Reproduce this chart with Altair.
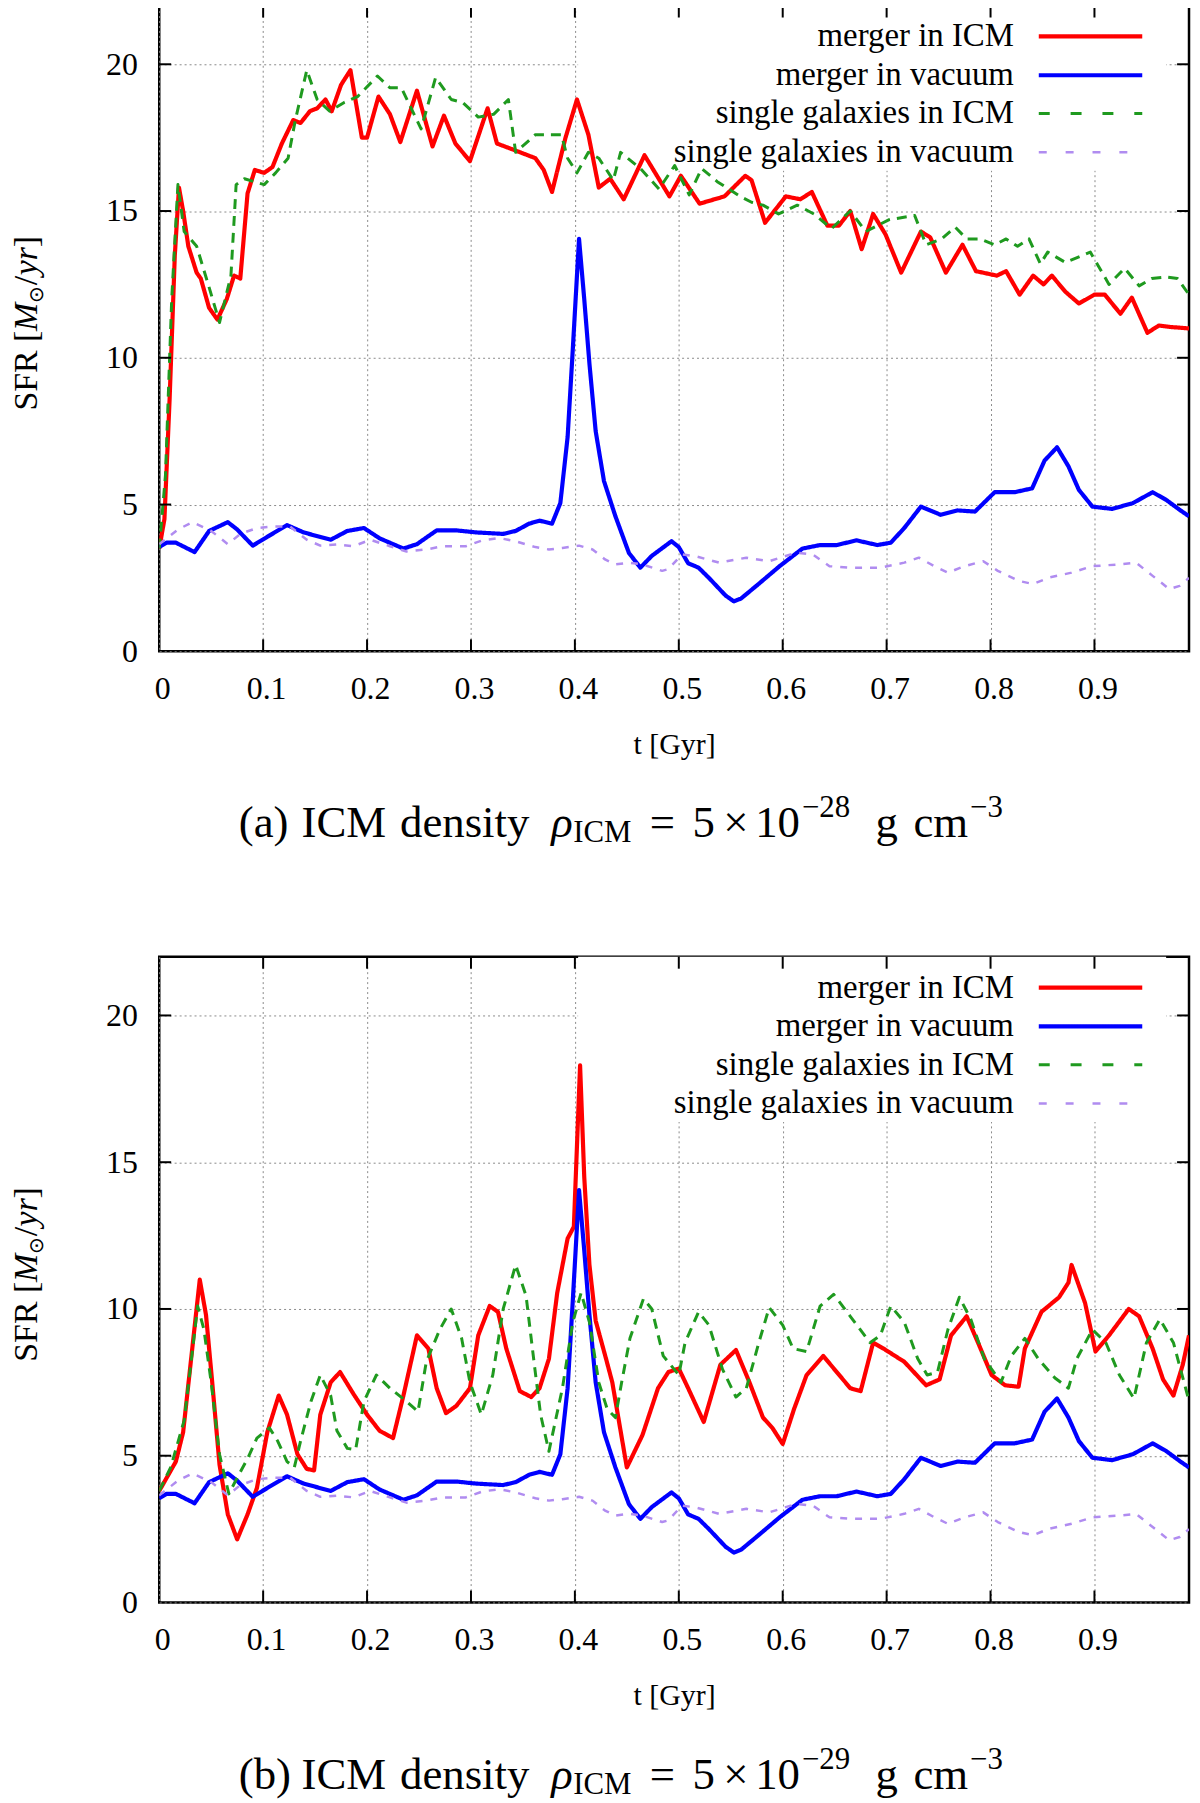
import altair as alt
import pandas as pd

FONT = "Liberation Serif"
W, H = 1035, 649

series_names = ["merger in ICM", "merger in vacuum", "single galaxies in ICM", "single galaxies in vacuum"]
series_colors = ["#ff0000", "#0000ff", "#1f9a1f", "#b08cf0"]

x_tick_values = [0.1, 0.2, 0.3, 0.4, 0.5, 0.6, 0.7, 0.8, 0.9]
x_label_values = [0.0, 0.1, 0.2, 0.3, 0.4, 0.5, 0.6, 0.7, 0.8, 0.9]
y_tick_values = [5, 10, 15, 20]
y_label_values = [0, 5, 10, 15, 20]

# ---- shared vacuum runs (identical in both panels) ----
t_vac_merger = [0.0, 0.007, 0.016, 0.034, 0.048, 0.066, 0.075, 0.09, 0.104, 0.123, 0.139, 0.165, 0.181, 0.197,
                0.212, 0.235, 0.248, 0.267, 0.286, 0.305, 0.331, 0.343, 0.356, 0.366, 0.378, 0.386, 0.393, 0.398,
                0.404, 0.409, 0.414, 0.42, 0.428, 0.439, 0.452, 0.463, 0.474, 0.493, 0.5, 0.509, 0.519, 0.529,
                0.545, 0.553, 0.56, 0.577, 0.597, 0.619, 0.636, 0.652, 0.671, 0.691, 0.704, 0.717, 0.733, 0.752,
                0.768, 0.785, 0.804, 0.823, 0.84, 0.852, 0.864, 0.875, 0.885, 0.898, 0.917, 0.937, 0.956, 0.969,
                0.982, 0.991]
v_vac_merger = [3.55, 3.7, 3.7, 3.38, 4.1, 4.4, 4.15, 3.6, 3.9, 4.3, 4.05, 3.8, 4.1, 4.2,
                3.85, 3.5, 3.65, 4.12, 4.12, 4.05, 4.0, 4.1, 4.35, 4.45, 4.35, 5.05, 7.3, 10.3,
                14.05, 12.0, 9.8, 7.5, 5.8, 4.6, 3.35, 2.85, 3.25, 3.75, 3.55, 3.0, 2.85, 2.5,
                1.9, 1.7, 1.8, 2.3, 2.9, 3.5, 3.62, 3.62, 3.78, 3.62, 3.7, 4.2, 4.93, 4.65,
                4.8, 4.76, 5.42, 5.42, 5.55, 6.5, 6.95, 6.3, 5.5, 4.93, 4.85, 5.05, 5.42, 5.16,
                4.82, 4.6]

t_vac_single = [0.0, 0.018, 0.032, 0.05, 0.066, 0.078, 0.094, 0.11, 0.126, 0.142, 0.155, 0.171, 0.187, 0.203,
                0.222, 0.238, 0.257, 0.273, 0.295, 0.311, 0.327, 0.343, 0.362, 0.375, 0.388, 0.404, 0.417, 0.429,
                0.439, 0.452, 0.465, 0.484, 0.49, 0.503, 0.516, 0.539, 0.565, 0.587, 0.613, 0.629, 0.645, 0.665,
                0.694, 0.717, 0.731, 0.746, 0.759, 0.775, 0.793, 0.807, 0.827, 0.841, 0.856, 0.878, 0.898, 0.924,
                0.94, 0.956, 0.972, 0.982, 0.991]
v_vac_single = [3.65, 4.15, 4.4, 4.1, 3.65, 4.0, 4.2, 4.25, 4.25, 3.8, 3.6, 3.64, 3.58, 3.8,
                3.58, 3.4, 3.47, 3.58, 3.58, 3.78, 3.86, 3.75, 3.55, 3.47, 3.52, 3.6, 3.47, 3.13,
                2.96, 3.02, 2.96, 2.74, 2.8, 3.3, 3.24, 3.02, 3.19, 3.07, 3.36, 3.3, 2.9, 2.85,
                2.85, 3.02, 3.19, 2.9, 2.68, 2.9, 3.07, 2.74, 2.4, 2.29, 2.51, 2.68, 2.9, 2.96,
                3.02, 2.57, 2.12, 2.23, 2.5]

# ---- panel (a): rho_ICM = 5e-28 ----
t_icm_merger_a = [0.0, 0.005, 0.01, 0.015, 0.019, 0.023, 0.028, 0.036, 0.04, 0.048, 0.056, 0.065, 0.072, 0.078,
                  0.085, 0.092, 0.101, 0.109, 0.118, 0.129, 0.136, 0.145, 0.152, 0.16, 0.166, 0.175, 0.184, 0.195,
                  0.2, 0.211, 0.222, 0.232, 0.248, 0.263, 0.274, 0.285, 0.299, 0.316, 0.325, 0.34, 0.362, 0.37,
                  0.378, 0.391, 0.402, 0.413, 0.423, 0.434, 0.447, 0.467, 0.491, 0.502, 0.52, 0.544, 0.564, 0.57,
                  0.583, 0.603, 0.617, 0.628, 0.643, 0.654, 0.665, 0.676, 0.687, 0.699, 0.714, 0.733, 0.742, 0.757,
                  0.773, 0.786, 0.806, 0.815, 0.828, 0.841, 0.851, 0.859, 0.872, 0.885, 0.9, 0.91, 0.925, 0.936,
                  0.951, 0.962, 0.973, 0.991]
v_icm_merger_a = [3.5, 4.5, 8.6, 13.5, 15.8, 15.0, 13.8, 12.9, 12.7, 11.7, 11.3, 12.0, 12.8, 12.7,
                  15.6, 16.4, 16.3, 16.5, 17.3, 18.1, 18.0, 18.4, 18.5, 18.8, 18.4, 19.3, 19.8, 17.5,
                  17.5, 18.9, 18.3, 17.35, 19.1, 17.2, 18.25, 17.3, 16.7, 18.5, 17.3, 17.1, 16.8, 16.4,
                  15.65, 17.5, 18.8, 17.6, 15.8, 16.1, 15.4, 16.9, 15.5, 16.2, 15.25, 15.5, 16.2, 16.05,
                  14.6, 15.5, 15.4, 15.65, 14.5, 14.5, 15.0, 13.7, 14.9, 14.2, 12.9, 14.3, 14.1, 12.9,
                  13.85, 12.95, 12.8, 12.95, 12.15, 12.8, 12.5, 12.8, 12.25, 11.85, 12.15, 12.15, 11.5, 12.05,
                  10.85, 11.1, 11.05, 11.0]

t_icm_single_a = [0.0, 0.006, 0.012, 0.018, 0.024, 0.036, 0.048, 0.058, 0.069, 0.074, 0.082, 0.101, 0.112, 0.124,
                  0.131, 0.142, 0.152, 0.164, 0.178, 0.191, 0.21, 0.222, 0.233, 0.252, 0.266, 0.281, 0.292, 0.307,
                  0.322, 0.336, 0.343, 0.362, 0.387, 0.393, 0.402, 0.413, 0.423, 0.437, 0.444, 0.463, 0.481, 0.496,
                  0.51, 0.522, 0.537, 0.559, 0.57, 0.581, 0.596, 0.614, 0.63, 0.647, 0.665, 0.68, 0.702, 0.727,
                  0.738, 0.753, 0.766, 0.777, 0.79, 0.804, 0.815, 0.826, 0.837, 0.848, 0.855, 0.872, 0.896, 0.914,
                  0.929, 0.943, 0.955, 0.969, 0.98, 0.99]
v_icm_single_a = [3.5, 6.0, 12.0, 15.9, 14.3, 13.8, 12.4, 11.2, 12.8, 15.9, 16.1, 15.9, 16.3, 16.8,
                  18.1, 19.8, 18.8, 18.4, 18.7, 18.9, 19.6, 19.2, 19.2, 17.8, 19.55, 18.8, 18.7, 18.2,
                  18.3, 18.8, 17.0, 17.6, 17.6, 16.8, 16.3, 17.0, 16.8, 16.05, 17.0, 16.45, 15.75, 16.55,
                  15.55, 16.45, 16.0, 15.5, 15.3, 15.2, 14.9, 15.2, 14.9, 14.4, 15.0, 14.3, 14.7, 14.85,
                  13.85, 14.05, 14.45, 14.05, 14.05, 13.85, 14.05, 13.8, 14.05, 13.2, 13.6, 13.25, 13.6, 12.5,
                  13.05, 12.45, 12.7, 12.75, 12.7, 12.2]

# ---- panel (b): rho_ICM = 5e-29 ----
t_icm_merger_b = [0.0, 0.016, 0.023, 0.031, 0.039, 0.045, 0.051, 0.058, 0.066, 0.075, 0.085, 0.094, 0.104, 0.115,
                  0.123, 0.133, 0.142, 0.149, 0.155, 0.165, 0.174, 0.187, 0.2, 0.212, 0.225, 0.235, 0.248, 0.259,
                  0.267, 0.276, 0.286, 0.299, 0.307, 0.318, 0.326, 0.334, 0.347, 0.358, 0.366, 0.375, 0.383, 0.393,
                  0.399, 0.405, 0.409, 0.414, 0.42, 0.43, 0.436, 0.45, 0.465, 0.48, 0.49, 0.5, 0.509, 0.524,
                  0.54, 0.555, 0.568, 0.581, 0.59, 0.6, 0.611, 0.623, 0.639, 0.652, 0.665, 0.675, 0.687, 0.697,
                  0.717, 0.738, 0.751, 0.762, 0.777, 0.788, 0.801, 0.814, 0.827, 0.833, 0.849, 0.866, 0.875, 0.878,
                  0.891, 0.901, 0.914, 0.933, 0.943, 0.956, 0.966, 0.976, 0.985, 0.991]
v_icm_merger_b = [3.8, 4.8, 5.8, 8.4, 11.0, 9.8, 7.5, 4.7, 3.0, 2.15, 3.0, 3.9, 5.8, 7.05,
                  6.4, 5.05, 4.55, 4.5, 6.4, 7.5, 7.85, 7.1, 6.4, 5.85, 5.6, 7.05, 9.1, 8.65,
                  7.3, 6.45, 6.7, 7.3, 9.1, 10.1, 9.9, 8.65, 7.2, 7.0, 7.3, 8.3, 10.55, 12.4,
                  12.8, 18.3, 14.5, 11.5, 9.6, 8.3, 7.5, 4.6, 5.7, 7.3, 7.85, 7.97, 7.3, 6.15,
                  8.1, 8.6, 7.5, 6.3, 5.95, 5.4, 6.6, 7.75, 8.4, 7.85, 7.3, 7.2, 8.85, 8.65,
                  8.2, 7.4, 7.6, 9.1, 9.75, 8.85, 7.75, 7.4, 7.35, 8.65, 9.9, 10.4, 10.9, 11.5,
                  10.2, 8.55, 9.1, 10.0, 9.75, 8.65, 7.6, 7.05, 8.1, 9.1]

t_icm_single_b = [0.0, 0.011, 0.024, 0.037, 0.043, 0.05, 0.058, 0.067, 0.075, 0.085, 0.094, 0.106, 0.114, 0.123,
                  0.13, 0.136, 0.146, 0.155, 0.165, 0.171, 0.181, 0.189, 0.197, 0.209, 0.222, 0.238, 0.249, 0.257,
                  0.27, 0.281, 0.291, 0.299, 0.31, 0.321, 0.331, 0.343, 0.353, 0.361, 0.367, 0.375, 0.388, 0.398,
                  0.406, 0.414, 0.423, 0.431, 0.439, 0.445, 0.453, 0.466, 0.474, 0.485, 0.5, 0.506, 0.519, 0.529,
                  0.542, 0.555, 0.565, 0.577, 0.587, 0.6, 0.61, 0.623, 0.636, 0.649, 0.665, 0.684, 0.694, 0.704,
                  0.717, 0.73, 0.739, 0.749, 0.759, 0.77, 0.781, 0.794, 0.81, 0.82, 0.833, 0.846, 0.862, 0.875,
                  0.883, 0.898, 0.911, 0.924, 0.938, 0.95, 0.963, 0.976, 0.99]
v_icm_single_b = [3.8, 4.6, 6.2, 10.1, 9.3, 7.5, 5.05, 3.7, 4.25, 4.9, 5.6, 5.95, 5.5, 4.8,
                  4.6, 5.5, 6.85, 7.75, 7.05, 5.85, 5.25, 5.2, 6.85, 7.75, 7.3, 6.85, 6.5, 8.2,
                  9.3, 10.0, 9.0, 7.5, 6.4, 7.75, 10.0, 11.5, 10.45, 8.1, 6.4, 5.15, 7.3, 9.55,
                  10.55, 9.55, 7.5, 6.6, 6.3, 7.5, 9.0, 10.35, 10.0, 8.4, 7.75, 8.85, 9.9, 9.45,
                  7.95, 7.0, 7.3, 8.85, 10.05, 9.45, 8.65, 8.55, 10.1, 10.5, 9.75, 8.85, 9.1, 10.1,
                  9.55, 8.3, 7.75, 7.85, 9.3, 10.4, 9.65, 8.3, 7.5, 8.4, 9.0, 8.3, 7.65, 7.3,
                  8.3, 9.3, 8.85, 7.75, 6.95, 8.85, 9.65, 8.85, 7.0]

# caption pieces: (text, size, italic, kind)  kind: 0 normal, 1 subscript, 2 superscript
caption_a = [("(a)", 45, False, 0), ("ICM", 45, False, 0), ("density", 45, False, 0), ("ρ", 45, True, 0),
             ("ICM", 31, False, 1), ("=", 45, False, 0), ("5", 45, False, 0), ("×", 45, False, 0),
             ("10", 45, False, 0), ("−28", 31, False, 2), ("g", 45, False, 0), ("cm", 45, False, 0),
             ("−3", 31, False, 2)]
caption_b = [("(b)", 45, False, 0), ("ICM", 45, False, 0), ("density", 45, False, 0), ("ρ", 45, True, 0),
             ("ICM", 31, False, 1), ("=", 45, False, 0), ("5", 45, False, 0), ("×", 45, False, 0),
             ("10", 45, False, 0), ("−29", 31, False, 2), ("g", 45, False, 0), ("cm", 45, False, 0),
             ("−3", 31, False, 2)]
caption_x = [80, 143, 242, 394, 416, 493, 536, 567, 599, 646, 720, 758, 815]
caption_dy = {0: 187, 1: 192, 2: 167}

# y-axis title pieces (rotated): (text, size, italic, subscript)
ytitle_parts = [("SFR [", 34, False, False), ("M", 34, True, False), ("⊙", 20, False, True),
                ("/", 34, False, False), ("yr", 34, True, False), ("]", 34, False, False)]
ytitle_pos = [407, 327, 299, 281, 271, 243]

line_dash = [[1, 0], [1, 0], [10, 7], [7, 8]]
line_width = [4.2, 4.2, 3, 2.5]
legend_dash = [[1, 0], [1, 0], [11, 21], [8, 19]]
legend_rows = [31, 70, 108.5, 147.5]

xscale = alt.Scale(domain=[0, 0.991], nice=False, zero=False)
yscale = alt.Scale(domain=[0, 22], nice=False, zero=False)
xaxis = alt.Axis(values=x_label_values, format=".1~f", grid=True, ticks=False, domain=False,
                 labelFlush=False, labelOverlap=False, labelPadding=22, labelOffset=3, titlePadding=26,
                 gridDash=[2, 3], gridColor="#8a8a8a", gridWidth=1)
yaxis = alt.Axis(values=y_label_values, format="d", grid=True, ticks=False, domain=False,
                 labelPadding=22, labelOverlap=False,
                 gridDash=[2, 3], gridColor="#8a8a8a", gridWidth=1)
XT = "t [Gyr]"


def X(field):
    return alt.X(field, type="quantitative", scale=xscale, axis=xaxis, title=XT)


def Y(field):
    return alt.Y(field, type="quantitative", scale=yscale, axis=yaxis, title=None)


def panel(t_red, v_red, t_green, v_green, caption):
    series = [(t_red, v_red), (t_vac_merger, v_vac_merger), (t_green, v_green), (t_vac_single, v_vac_single)]
    layers = []
    # opaque key box (drawn over the grid, under the curves)
    layers.append(alt.Chart(pd.DataFrame({"k": [0]})).mark_rect(fill="white").encode(
        x=alt.value(421), x2=alt.value(1012), y=alt.value(0), y2=alt.value(166)))
    for i, (tt, vv) in enumerate(series):
        df = pd.DataFrame({"t": tt, "v": vv})
        layers.append(alt.Chart(df).mark_line(color=series_colors[i], strokeDash=line_dash[i],
                                              strokeWidth=line_width[i], clip=True,
                                              strokeJoin="round").encode(x=X("t"), y=Y("v")))
    # inward tick marks on all four sides
    xt = pd.DataFrame({"t": x_tick_values})
    yt = pd.DataFrame({"v": y_tick_values})
    layers.append(alt.Chart(xt).mark_rule(color="black", strokeWidth=2).encode(
        x=X("t"), y=alt.value(H), y2=alt.value(H - 12)))
    layers.append(alt.Chart(xt).mark_rule(color="black", strokeWidth=2).encode(
        x=X("t"), y=alt.value(0), y2=alt.value(12)))
    layers.append(alt.Chart(yt).mark_rule(color="black", strokeWidth=2).encode(
        y=Y("v"), x=alt.value(0), x2=alt.value(12)))
    layers.append(alt.Chart(yt).mark_rule(color="black", strokeWidth=2).encode(
        y=Y("v"), x=alt.value(W - 12), x2=alt.value(W)))
    # key: label right-aligned, line sample on the right
    for i, name in enumerate(series_names):
        ld = pd.DataFrame({"label": [name]})
        layers.append(alt.Chart(ld).mark_text(align="right", baseline="alphabetic", font=FONT,
                                              fontSize=33, color="black").encode(
            x=alt.value(859), y=alt.value(legend_rows[i] + 10), text="label:N"))
        layers.append(alt.Chart(ld).mark_rule(color=series_colors[i], strokeDash=legend_dash[i],
                                              strokeWidth=line_width[i]).encode(
            x=alt.value(884), x2=alt.value(988), y=alt.value(legend_rows[i])))
    # rotated y-axis title
    for (txt, size, ital, sub), py in zip(ytitle_parts, ytitle_pos):
        td = pd.DataFrame({"c": [txt]})
        layers.append(alt.Chart(td).mark_text(align="left", baseline="alphabetic", angle=270, font=FONT,
                                              fontSize=size, fontStyle="italic" if ital else "normal",
                                              color="black").encode(
            x=alt.value(-117 if sub else -123), y=alt.value(py), text="c:N"))
    # caption below the panel
    for (txt, size, ital, kind), cx in zip(caption, caption_x):
        cd = pd.DataFrame({"c": [txt]})
        layers.append(alt.Chart(cd).mark_text(align="left", baseline="alphabetic", font=FONT, fontSize=size,
                                              fontStyle="italic" if ital else "normal", color="black").encode(
            x=alt.value(cx), y=alt.value(H + caption_dy[kind]), text="c:N"))
    return alt.layer(*layers).properties(width=W, height=H)


pa = panel(t_icm_merger_a, v_icm_merger_a, t_icm_single_a, v_icm_single_a, caption_a)
pb = panel(t_icm_merger_b, v_icm_merger_b, t_icm_single_b, v_icm_single_b, caption_b)

chart = alt.vconcat(pa, pb, spacing=104).properties(
    padding={"left": 0, "top": -10, "right": 0, "bottom": 0}
).configure_view(
    stroke="black", strokeWidth=2.5
).configure_axis(
    labelFont=FONT, labelFontSize=32, labelColor="black",
    titleFont=FONT, titleFontSize=30, titleColor="black", titleFontWeight="normal"
)

chart.save("out.html", embed_options={"renderer": "svg", "actions": False})
